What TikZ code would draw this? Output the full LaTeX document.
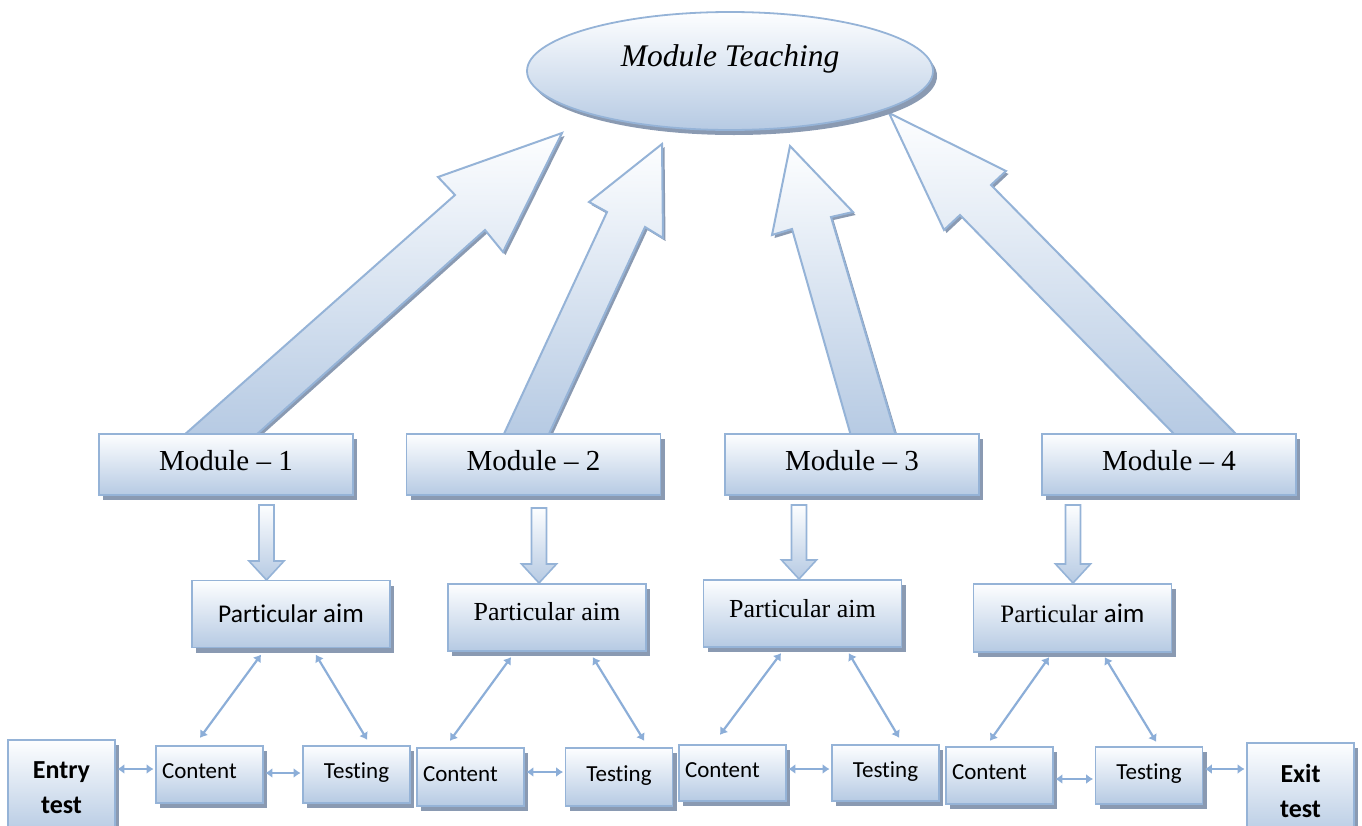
\documentclass[tikz,border=0pt]{standalone}
\usepackage{fontspec}
\setmainfont{Liberation Serif}
\newfontfamily\carl[Ligatures=NoCommon]{Carlito}
\usetikzlibrary{shapes.geometric,shadows,arrows.meta,calc}
\definecolor{bordc}{RGB}{149,179,215}
\definecolor{arrc}{RGB}{140,174,216}
\definecolor{gtop}{RGB}{253,254,255}
\definecolor{gbot}{RGB}{182,202,227}
\definecolor{shadc}{RGB}{138,154,178}
\tikzset{
  shadebox/.style={draw=bordc, line width=1.8pt, top color=gtop, bottom color=gbot},
  shad/.style={drop shadow={shadow xshift=4pt, shadow yshift=-5pt, fill=shadc, opacity=1}},
  box/.style={shadebox, shad, rectangle, inner sep=0pt},
  modbox/.style={box, minimum width=254pt, minimum height=61pt, font=\fontsize{29}{34}\selectfont, text height=20pt, text depth=9pt},
  aimbox/.style={box, minimum width=198pt, minimum height=67pt, text height=17pt},
  smallbox/.style={box, minimum width=107pt, minimum height=57pt, font=\carl\fontsize{23}{26}\selectfont, text height=14pt, text depth=6pt},
  contbox/.style={smallbox, text width=95pt, align=left, inner xsep=6pt},
  endbox/.style={box, minimum width=107pt, minimum height=95pt, font=\carl\bfseries\fontsize{26}{35}\selectfont, align=center},
  bigarrow/.style={shadebox, line width=2pt, drop shadow={shadow xshift=2.5pt, shadow yshift=-3pt, fill=shadc, opacity=1}},
  downarrow/.style={shadebox, line width=1.6pt},
  dbl/.style={draw=arrc, line width=2.2pt, shorten <=1.5pt, shorten >=1.5pt, arrows={Latex[length=7pt,width=10pt]-Latex[length=7pt,width=10pt]}}
}
\begin{document}
\begin{tikzpicture}[x=1pt,y=-1pt]
\useasboundingbox (0,0) rectangle (1362,825);
\clip (0,0) rectangle (1362,825);

% big arrows
\path[bigarrow] (183,436) -- (455,195) -- (438,177) -- (562,133) -- (503,252) -- (485,230) -- (255,436) -- cycle;
\path[bigarrow] (503,436) -- (607,212) -- (589,202) -- (662,144) -- (663,238) -- (645,227) -- (548,436) -- cycle;
\path[bigarrow] (851,436) -- (792,229) -- (772,235) -- (790,146) -- (853,212) -- (831,217) -- (896,436) -- cycle;
\path[bigarrow] (1176,436) -- (960,215) -- (944,230) -- (889,113) -- (1006,171) -- (991,185) -- (1238,436) -- cycle;

% top ellipse
\node[ellipse, shadebox, shad, inner sep=0pt, minimum width=406pt, minimum height=118pt,
      font=\itshape\fontsize{31.5}{36}\selectfont, text height=20pt, text depth=30pt] (mt) at (730,71) {Module Teaching};

% modules
\node[modbox] (m1) at (226,464.5) {Module -- 1};
\node[modbox] (m2) at (533.5,464.5) {Module -- 2};
\node[modbox] (m3) at (852,464.5) {Module -- 3};
\node[modbox] (m4) at (1169,464.5) {Module -- 4};

% small down arrows
\foreach \cx/\ty/\tp in {266.5/505/580, 539/508/583, 799/505/579, 1073/505/583}{
  \path[downarrow] (\cx-7.5,\ty) -- (\cx+7.5,\ty) -- (\cx+7.5,\tp-19) -- (\cx+17.5,\tp-19) -- (\cx,\tp) -- (\cx-17.5,\tp-19) -- (\cx-7.5,\tp-19) -- cycle;
}

% particular aim boxes
\node[aimbox, text depth=0pt] (pa1) at (291,614) {\carl\fontsize{25.5}{30}\selectfont Particular {\fontsize{27}{30}\selectfont aim}};
\node[aimbox, text depth=12pt, font=\fontsize{26}{30}\selectfont] (pa2) at (547,617.5) {Particular aim};
\node[aimbox, text depth=10pt, font=\fontsize{26}{30}\selectfont] (pa3) at (802.5,613.5) {Particular aim};
\node[aimbox, text depth=9pt, minimum height=68pt] (pa4) at (1072.5,618) {\fontsize{25}{30}\selectfont Particular {\carl\fontsize{27}{30}\selectfont aim}};

% bottom row
\node[endbox] (entry) at (61.5,787.5) {Entry\\test};
\node[contbox] (c1) at (209.5,774.5) {Content};
\node[smallbox] (t1) at (356.5,774.5) {Testing};
\node[contbox, minimum height=58pt] (c2) at (470.5,777) {Content};
\node[smallbox, minimum height=58pt] (t2) at (619,777) {Testing};
\node[contbox, minimum height=56pt] (c3) at (732.5,773) {Content};
\node[smallbox, minimum height=56pt] (t3) at (885.5,773) {Testing};
\node[contbox] (c4) at (999.5,775.5) {Content};
\node[smallbox] (t4) at (1149,775.5) {Testing};
\node[endbox] (exit) at (1300.5,790.5) {Exit\\test};

% horizontal double arrows
\draw[dbl] (entry.east |- 0,769) -- (c1.west |- 0,769);
\draw[dbl] (c1.east |- 0,773) -- (t1.west |- 0,773);
\draw[dbl] (c2.east |- 0,772) -- (t2.west |- 0,772);
\draw[dbl] (c3.east |- 0,769) -- (t3.west |- 0,769);
\draw[dbl] (c4.east |- 0,779) -- (t4.west |- 0,779);
\draw[dbl] (t4.east |- 0,769) -- (exit.west |- 0,769);

% diagonal double arrows
\draw[dbl] ($(pa1.south -| 262,0)+(0,5)$) -- ($(c1.north -| 199,0)+(0,-6)$);
\draw[dbl] ($(pa1.south -| 315,0)+(0,5)$) -- ($(t1.north -| 368,0)+(0,-4)$);
\draw[dbl] ($(pa2.south -| 512,0)+(0,4)$) -- ($(c2.north -| 449,0)+(0,-5)$);
\draw[dbl] ($(pa2.south -| 592,0)+(0,4)$) -- ($(t2.north -| 645,0)+(0,-5)$);
\draw[dbl] ($(pa3.south -| 782,0)+(0,4)$) -- ($(c3.north -| 719,0)+(0,-8)$);
\draw[dbl] ($(pa3.south -| 848,0)+(0,4)$) -- ($(t3.north -| 900,0)+(0,-5)$);
\draw[dbl] ($(pa4.south -| 1050,0)+(0,3)$) -- ($(c4.north -| 989,0)+(0,-4)$);
\draw[dbl] ($(pa4.south -| 1104,0)+(0,3)$) -- ($(t4.north -| 1157,0)+(0,-3)$);
\end{tikzpicture}
\end{document}
